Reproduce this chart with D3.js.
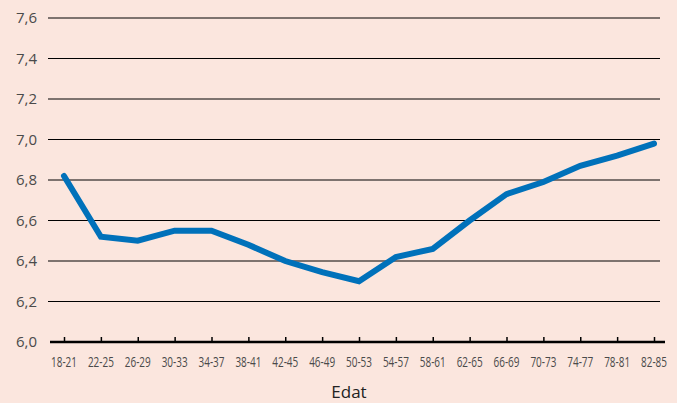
<!DOCTYPE html>
<html>
<head>
<meta charset="utf-8">
<script src="https://cdn.jsdelivr.net/npm/d3@7"></script>
<style>
  html, body { margin: 0; padding: 0; background: #fbe6de; }
  svg { display: block; }
  .ylab { font-family: "Open Sans", sans-serif; font-size: 15px; fill: #4a4a4a; }
  .xlab { font-family: "Open Sans", sans-serif; font-size: 14px; fill: #4a4a4a; }
  .title { font-family: "Open Sans", sans-serif; font-size: 17px; fill: #222; }
</style>
</head>
<body>
<div id="chart"></div>
<script>
const width = 677;
const height = 403;

// data
const ageGroups = ["18-21", "22-25", "26-29", "30-33", "34-37", "38-41", "42-45", "46-49", "50-53",
                   "54-57", "58-61", "62-65", "66-69", "70-73", "74-77", "78-81", "82-85"];
const values = [6.82, 6.52, 6.50, 6.55, 6.55, 6.48, 6.40, 6.345, 6.30,
                6.42, 6.46, 6.60, 6.73, 6.79, 6.87, 6.92, 6.98];
const yTicks = [6.0, 6.2, 6.4, 6.6, 6.8, 7.0, 7.2, 7.4, 7.6];
const xTitle = "Edat";

const svg = d3.select("#chart").append("svg")
    .attr("width", width)
    .attr("height", height);

svg.append("rect")
    .attr("width", width)
    .attr("height", height)
    .attr("fill", "#fbe6de");

const xScale = d3.scalePoint()
    .domain(ageGroups)
    .range([64, 654]);

const yScale = d3.scaleLinear()
    .domain([6.0, 7.6])
    .range([342, 18]);

const fmt = d => d.toFixed(1).replace(".", ",");

// gridlines
svg.append("g")
    .selectAll("line")
    .data(yTicks.filter(d => d > 6.0))
    .enter()
    .append("line")
    .attr("x1", 48)
    .attr("x2", 660)
    .attr("y1", d => yScale(d))
    .attr("y2", d => yScale(d))
    .attr("stroke", "#000")
    .attr("stroke-width", 1);

// y labels
svg.append("g")
    .selectAll("text")
    .data(yTicks)
    .enter()
    .append("text")
    .attr("class", "ylab")
    .attr("x", 37)
    .attr("y", d => yScale(d))
    .attr("dy", "0.36em")
    .attr("text-anchor", "end")
    .text(fmt);

// x axis
const xaxis = d3.axisBottom(xScale)
    .tickSize(-5)
    .tickPadding(0);

const gx = svg.append("g")
    .attr("transform", "translate(0," + yScale(6.0) + ")")
    .call(xaxis);

gx.select(".domain").remove();
gx.selectAll(".tick line")
    .attr("stroke", "#000")
    .attr("stroke-width", 1.5);
gx.selectAll(".tick text").remove();

svg.append("line")
    .attr("x1", 50)
    .attr("x2", 665)
    .attr("y1", yScale(6.0))
    .attr("y2", yScale(6.0))
    .attr("stroke", "#000")
    .attr("stroke-width", 2.5);

// condensed tick labels (squeezed to match the narrow face)
svg.append("g")
    .selectAll("text")
    .data(ageGroups)
    .enter()
    .append("text")
    .attr("class", "xlab")
    .attr("x", d => xScale(d) - 13)
    .attr("y", 362)
    .attr("dy", "0.35em")
    .attr("textLength", 26)
    .attr("lengthAdjust", "spacingAndGlyphs")
    .text(d => d);

svg.append("text")
    .attr("class", "title")
    .attr("x", 349)
    .attr("y", 392)
    .attr("dy", "0.35em")
    .attr("text-anchor", "middle")
    .text(xTitle);

// line
const line = d3.line()
    .x((d, i) => xScale(ageGroups[i]))
    .y(d => yScale(d));

svg.append("path")
    .datum(values)
    .attr("d", line)
    .attr("fill", "none")
    .attr("stroke", "#0071ba")
    .attr("stroke-width", 6)
    .attr("stroke-linecap", "round")
    .attr("stroke-linejoin", "miter");
</script>
</body>
</html>
